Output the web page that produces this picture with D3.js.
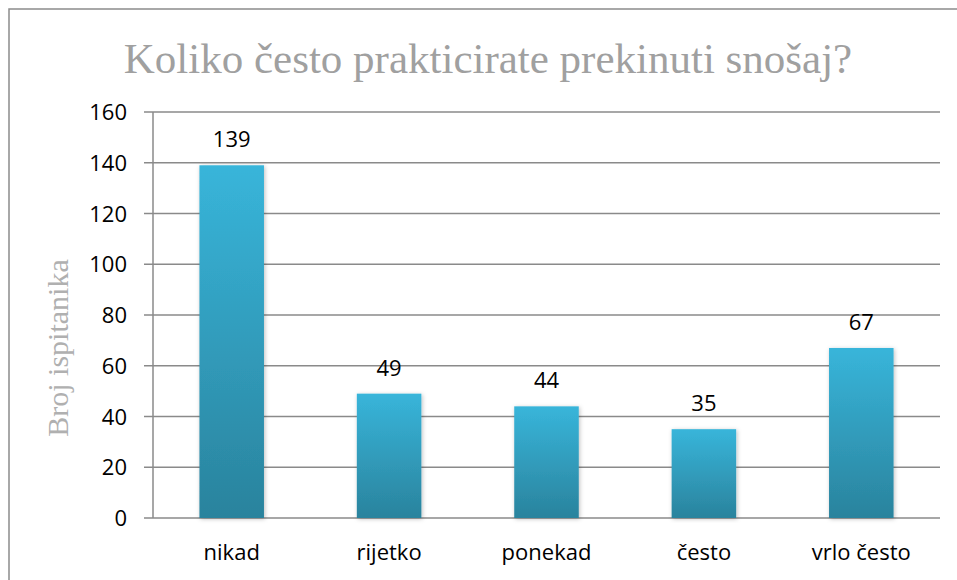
<!DOCTYPE html>
<html>
<head>
<meta charset="utf-8">
<script src="https://d3js.org/d3.v7.min.js"></script>
<style>
  body { margin: 0; background: #fff; }
</style>
</head>
<body>
<div id="vis"></div>
<script>
  // data
  var categories = ["nikad", "rijetko", "ponekad", "često", "vrlo često"]
  var counts = [139, 49, 44, 35, 67]
  var yTicks = [0, 20, 40, 60, 80, 100, 120, 140, 160]

  var W = 957, H = 580
  var plotLeft = 153, plotRight = 940, plotTop = 112, plotBottom = 518
  var labelFont = "Open Sans, Liberation Sans, sans-serif"

  var svg = d3.select("#vis").append("svg")
    .attr("width", W).attr("height", H)

  // outer frame
  svg.append("rect")
    .attr("x", 9).attr("y", 9).attr("width", 960).attr("height", 600)
    .attr("fill", "none").attr("stroke", "#8c8c8c").attr("stroke-width", 1.5)

  var defs = svg.append("defs")
  var grad = defs.append("linearGradient").attr("id", "barGrad")
    .attr("x1", 0).attr("y1", 0).attr("x2", 0).attr("y2", 1)
  grad.append("stop").attr("offset", "0%").attr("stop-color", "#38b5da")
  grad.append("stop").attr("offset", "100%").attr("stop-color", "#2a839d")

  var shadow = defs.append("filter").attr("id", "shadow")
    .attr("x", "-20%").attr("y", "-5%").attr("width", "140%").attr("height", "110%")
  shadow.append("feDropShadow").attr("dx", 1).attr("dy", 1)
    .attr("stdDeviation", 2).attr("flood-color", "#000").attr("flood-opacity", 0.25)

  var x = d3.scaleBand().domain(categories).range([plotLeft, plotRight]).padding(0)
  var y = d3.scaleLinear().domain([0, 160]).range([plotBottom, plotTop])

  // gridlines + ticks
  svg.append("g").selectAll("line").data(yTicks).enter().append("line")
    .attr("x1", plotLeft - 9).attr("x2", plotRight)
    .attr("y1", function(d) { return y(d) }).attr("y2", function(d) { return y(d) })
    .attr("stroke", "#8a8a8a").attr("stroke-width", 1.5)

  svg.append("line")
    .attr("x1", plotLeft).attr("x2", plotLeft).attr("y1", y(160)).attr("y2", y(0))
    .attr("stroke", "#8a8a8a").attr("stroke-width", 1.5)

  svg.append("g").selectAll("text").data(yTicks).enter().append("text")
    .attr("x", plotLeft - 26).attr("y", function(d) { return y(d) + 8 })
    .attr("text-anchor", "end")
    .style("font-family", labelFont)
    .style("font-size", "22px").attr("fill", "#000")
    .text(function(d) { return d })

  // bars
  var bw = x.bandwidth() * 0.41
  svg.append("g").selectAll("rect").data(counts).enter().append("rect")
    .attr("x", function(d, i) { return x(categories[i]) + x.bandwidth() / 2 - bw / 2 })
    .attr("y", function(d) { return y(d) })
    .attr("width", bw)
    .attr("height", function(d) { return y(0) - y(d) })
    .attr("fill", "url(#barGrad)")
    .attr("filter", "url(#shadow)")

  // value labels
  svg.append("g").selectAll("text").data(counts).enter().append("text")
    .attr("x", function(d, i) { return x(categories[i]) + x.bandwidth() / 2 })
    .attr("y", function(d) { return y(d) - 18 })
    .attr("text-anchor", "middle")
    .style("font-family", labelFont)
    .style("font-size", "22px").attr("fill", "#000")
    .text(function(d) { return d })

  // category labels
  svg.append("g").selectAll("text").data(categories).enter().append("text")
    .attr("x", function(d) { return x(d) + x.bandwidth() / 2 })
    .attr("y", 560)
    .attr("text-anchor", "middle")
    .style("font-family", labelFont)
    .style("font-size", "22px").attr("fill", "#000")
    .text(function(d) { return d })

  // title
  svg.append("text")
    .attr("x", 488).attr("y", 73)
    .attr("text-anchor", "middle")
    .style("font-family", "Liberation Serif, serif")
    .style("font-size", "43px").attr("fill", "#a0a0a0")
    .text("Koliko često prakticirate prekinuti snošaj?")

  // y axis title
  svg.append("text")
    .attr("transform", "translate(68,348) rotate(-90)")
    .attr("text-anchor", "middle")
    .style("font-family", "Liberation Serif, serif")
    .style("font-size", "30px").attr("fill", "#b0b0b0")
    .text("Broj ispitanika")
</script>
</body>
</html>
